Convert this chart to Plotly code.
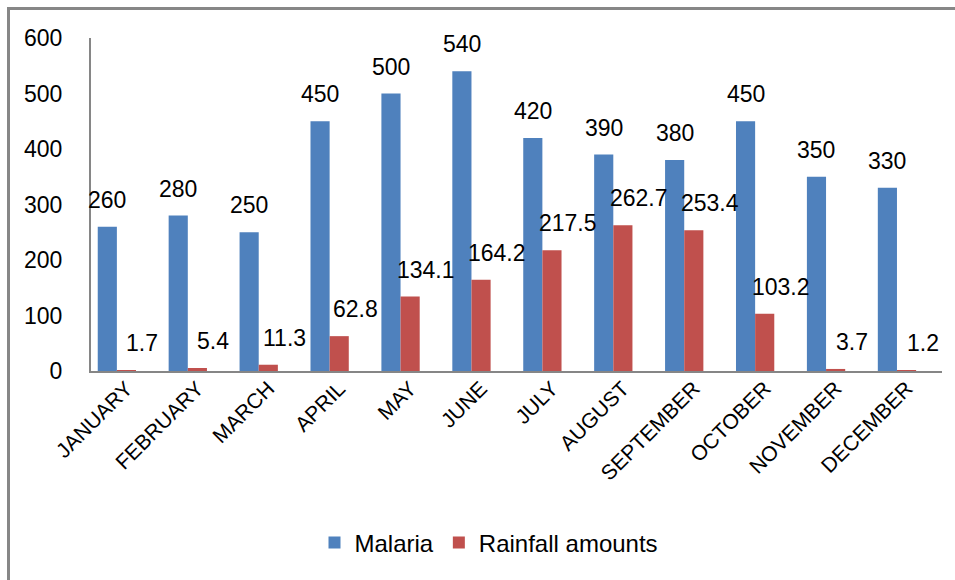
import plotly.graph_objects as go

months = ["JANUARY", "FEBRUARY", "MARCH", "APRIL", "MAY", "JUNE", "JULY",
          "AUGUST", "SEPTEMBER", "OCTOBER", "NOVEMBER", "DECEMBER"]
malaria = [260, 280, 250, 450, 500, 540, 420, 390, 380, 450, 350, 330]
rainfall = [1.7, 5.4, 11.3, 62.8, 134.1, 164.2, 217.5, 262.7, 253.4, 103.2, 3.7, 1.2]
y_ticks = [0, 100, 200, 300, 400, 500, 600]

BLUE = "#4F81BD"
RED = "#C0504D"
AXIS = "#868686"
FONT = "Liberation Sans, Arial, sans-serif"

W, H = 955, 580
L, R, T, B = 91, 13, 38, 209
plot_w = W - L - R
cat_px = plot_w / len(months)
bar_w = 0.27

fig = go.Figure()
fig.add_trace(go.Bar(name="Malaria", x=months, y=malaria, marker_color=BLUE,
                     width=bar_w, offset=-0.405, marker_line_width=0))
fig.add_trace(go.Bar(name="Rainfall amounts", x=months, y=rainfall, marker_color=RED,
                     width=bar_w, offset=-0.135, marker_line_width=0))

annotations = []
blue_shift = (-0.405 + bar_w / 2) * cat_px
for m, v in zip(months, malaria):
    annotations.append(dict(x=m, y=v, xref="x", yref="y", text=str(v), showarrow=False,
                            xshift=blue_shift, yshift=27, yanchor="middle",
                            font=dict(family=FONT, size=23, color="black")))
for m, v in zip(months, rainfall):
    annotations.append(dict(x=m, y=v, xref="x", yref="y", text=f"{v:.1f}", showarrow=False,
                            xshift=16, yshift=27, yanchor="middle",
                            font=dict(family=FONT, size=23, color="black")))

plot_h = H - T - B
fig.update_layout(
    width=W, height=H,
    margin=dict(l=L, r=R, t=T, b=B),
    paper_bgcolor="white", plot_bgcolor="white",
    barmode="overlay",
    font=dict(family=FONT, color="black"),
    showlegend=True,
    legend=dict(orientation="h", x=(489 - L) / plot_w, xanchor="center",
                y=-(543 - (H - B)) / plot_h, yanchor="middle",
                font=dict(family=FONT, size=24, color="black"),
                itemsizing="constant", bgcolor="rgba(0,0,0,0)"),
    annotations=annotations,
    xaxis=dict(type="category", range=[-0.5, 11.5], showline=True, linecolor=AXIS,
               linewidth=2, ticks="", tickangle=-45, showgrid=False, zeroline=False,
               ticklabelstandoff=-5,
               tickfont=dict(family=FONT, size=21, color="black")),
    yaxis=dict(range=[0, 600], tickvals=y_ticks, ticktext=[str(t) for t in y_ticks],
               showline=True, linecolor=AXIS, linewidth=2, ticks="", showgrid=False,
               zeroline=False, ticklabelstandoff=22,
               tickfont=dict(family=FONT, size=23, color="black")),
    shapes=[dict(type="rect", xref="paper", yref="paper",
                 x0=(8.5 - L) / plot_w, x1=(1000 - L) / plot_w,
                 y0=((H - B) - 8.5) / plot_h, y1=((H - B) - 620) / plot_h,
                 line=dict(color="#878787", width=3), fillcolor="rgba(0,0,0,0)",
                 layer="below")],
)

fig.write_html("out.html",
               config={"displayModeBar": False},
               post_script="document.body.style.margin='0';"
                           "document.body.style.overflow='hidden';")
